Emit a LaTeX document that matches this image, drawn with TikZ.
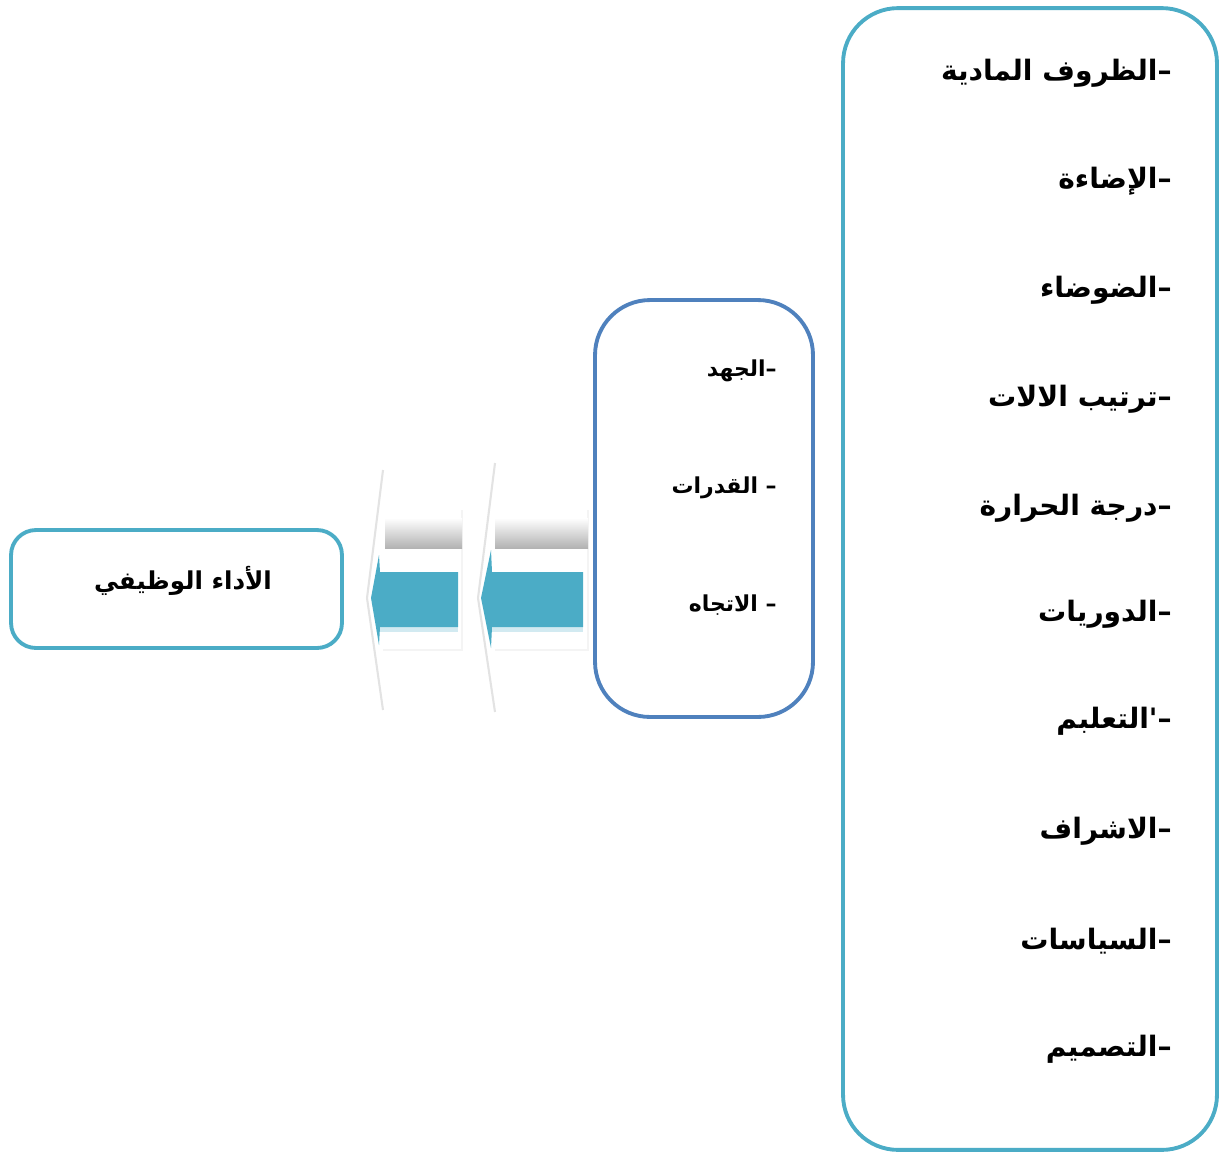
\documentclass[tikz,border=0pt]{standalone}
\usepackage{fontspec}
\TeXXeTstate=1
\newfontfamily\arabicfont[Script=Arabic]{DejaVu Sans}
\definecolor{tealb}{RGB}{75,172,198}
\definecolor{blueb}{RGB}{79,129,189}
\begin{document}
\begin{tikzpicture}[x=0.02cm,y=-0.02cm,
  box/.style={draw, line width=2.2pt, fill=white},
  item/.style={anchor=east, inner sep=0pt, font=\arabicfont\bfseries\fontsize{16}{19}\selectfont},
  smallitem/.style={anchor=east, inner sep=0pt, font=\arabicfont\bfseries\fontsize{12.5}{15}\selectfont},
  ghost/.style={draw=gray!22, line width=1.2pt},
  faint/.style={draw=gray!9, line width=1pt},
  band/.style={top color=white, bottom color=gray!60},
  arrowfill/.style={fill=tealb}]
\useasboundingbox (0,0) rectangle (1222,1153);

% boxes
\node[box, draw=tealb, rounded corners=1.1cm, minimum width=7.48cm, minimum height=22.84cm] (factors) at (1030,579) {};
\node[box, draw=blueb, rounded corners=1.1cm, minimum width=4.36cm, minimum height=8.34cm] (personal) at (704,508.5) {};
\node[box, draw=tealb, rounded corners=0.5cm, minimum width=6.62cm, minimum height=2.36cm] (perf) at (176.5,589) {};

\node[inner sep=0pt, font=\arabicfont\bfseries\fontsize{14}{17}\selectfont] (perftext) at (183,581) {\beginR الأداء الوظيفي\endR};

% right box items
\node[item] (f1) at (1172,73) {\beginR –الظروف المادية\endR};
\node[item] (f2) at (1172,181) {\beginR –الإضاءة\endR};
\node[item] (f3) at (1172,290) {\beginR –الضوضاء\endR};
\node[item] (f4) at (1172,399) {\beginR –ترتيب الالات\endR};
\node[item] (f5) at (1172,508) {\beginR –درجة الحرارة\endR};
\node[item] (f6) at (1172,614) {\beginR –الدوريات\endR};
\node[item] (f7) at (1172,721) {\beginR –'التعلبم\endR};
\node[item] (f8) at (1172,831) {\beginR –الاشراف\endR};
\node[item] (f9) at (1172,941) {\beginR –السياسات\endR};
\node[item] (f10) at (1172,1049) {\beginR –التصميم\endR};

% middle box items
\node[smallitem] (p1) at (777,371) {\beginR –الجهد\endR};
\node[smallitem] (p2) at (777,488) {\beginR – القدرات\endR};
\node[smallitem] (p3) at (777,605) {\beginR – الاتجاه\endR};

% right arrow (between middle box and left arrow)
\draw[ghost] (495,463) -- (478,598) -- (495,712);
\draw[faint] (495,650) -- (588,650) -- (588,510);
\shade[band] (495,518) rectangle (588,548);
\fill[tealb!25] (492,627) rectangle (583,632);
\fill[arrowfill] (583,572) -- (492,572) -- (491,550) -- (481,598) -- (491,648) -- (492,627) -- (583,627) -- cycle;

% left arrow
\draw[ghost] (383,470) -- (367,598) -- (383,710);
\draw[faint] (383,650) -- (462,650) -- (462,510);
\shade[band] (385,518) rectangle (462,548);
\fill[tealb!25] (380,627) rectangle (458,632);
\fill[arrowfill] (458,572) -- (380,572) -- (379,555) -- (371,598) -- (379,645) -- (380,627) -- (458,627) -- cycle;
\end{tikzpicture}
\end{document}
